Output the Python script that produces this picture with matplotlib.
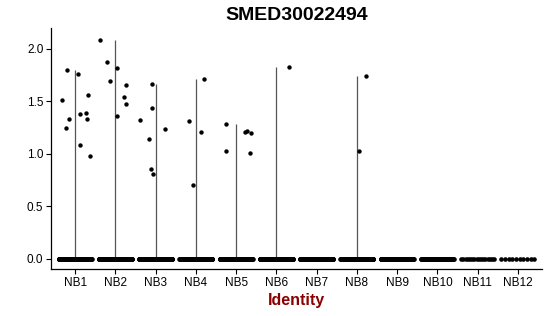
import numpy as np
import matplotlib
matplotlib.use('Agg')
from matplotlib import pyplot as plt

plt.rcParams['font.family'] = ['Liberation Sans', 'DejaVu Sans']

# groups on the x axis
groups = ['NB1', 'NB2', 'NB3', 'NB4', 'NB5', 'NB6',
          'NB7', 'NB8', 'NB9', 'NB10', 'NB11', 'NB12']

# number of cells with zero expression per group
zero_counts = [220, 220, 220, 220, 220, 180, 200, 200, 150, 60, 16, 10]

# expressing cells: group index, value, jitter offset
nz_group = [0, 0, 0, 0, 0, 0, 0, 0, 0, 0, 0,
            1, 1, 1, 1, 1, 1, 1, 1,
            2, 2, 2, 2, 2, 2, 2,
            3, 3, 3, 3,
            4, 4, 4, 4, 4, 4,
            5,
            7, 7]
nz_value = [1.51, 1.80, 1.25, 1.33, 1.76, 1.38, 1.08, 1.39, 1.33, 1.56, 0.98,
            2.09, 1.88, 1.69, 1.82, 1.36, 1.54, 1.66, 1.47,
            1.32, 1.14, 1.67, 1.44, 0.85, 0.81, 1.24,
            1.31, 0.70, 1.21, 1.71,
            1.28, 1.03, 1.21, 1.22, 1.20, 1.01,
            1.83,
            1.74, 1.03]
nz_jitter = [-0.32, -0.20, -0.22, -0.15, 0.08, 0.13, 0.12, 0.26, 0.29, 0.33, 0.38,
             -0.39, -0.22, -0.13, 0.03, 0.05, 0.22, 0.26, 0.27,
             -0.40, -0.17, -0.10, -0.10, -0.11, -0.07, 0.24,
             -0.17, -0.07, 0.12, 0.19,
             -0.26, -0.24, 0.21, 0.26, 0.36, 0.35,
             0.32,
             0.22, 0.05]

fig = plt.figure(figsize=(5.5, 3.16), dpi=100)
ax = fig.add_axes([0.0927, 0.1487, 0.8928, 0.7627])

pos = np.arange(1, len(groups) + 1)
nz_group = np.array(nz_group)
nz_value = np.array(nz_value)

# thin violins: only the spine from 0 to max is visible
for i, p in enumerate(pos):
    vals = nz_value[nz_group == i]
    if len(vals):
        ax.vlines(p, 0, vals.max(), color='#555555', lw=0.9, zorder=1)

# zero cells spread across the group width
for p, n in zip(pos, zero_counts):
    xs = p + np.linspace(-0.41, 0.41, n)
    ax.scatter(xs, np.zeros(n), s=11, color='black', lw=0, zorder=2)

ax.scatter(pos[nz_group] + np.array(nz_jitter), nz_value, s=10,
           color='black', lw=0, zorder=3)

ax.set_xlim(0.4, 12.6)
ax.set_ylim(-0.10, 2.20)
ax.set_xticks(pos)
ax.set_xticklabels(groups, fontsize=8.5)
ax.set_yticks([0, 0.5, 1.0, 1.5, 2.0])
ax.set_yticklabels(['0.0', '0.5', '1.0', '1.5', '2.0'], fontsize=8.5)
ax.tick_params(length=3.5, width=0.8, color='black', pad=2)
for s in ['top', 'right']:
    ax.spines[s].set_visible(False)
for s in ['left', 'bottom']:
    ax.spines[s].set_linewidth(0.9)

ax.set_title('SMED30022494', fontsize=14, fontweight='bold', pad=6)
ax.set_xlabel('Identity', fontsize=11.5, fontweight='bold', color='#8B0000',
              labelpad=3)

fig.savefig('out.png', dpi=100)
